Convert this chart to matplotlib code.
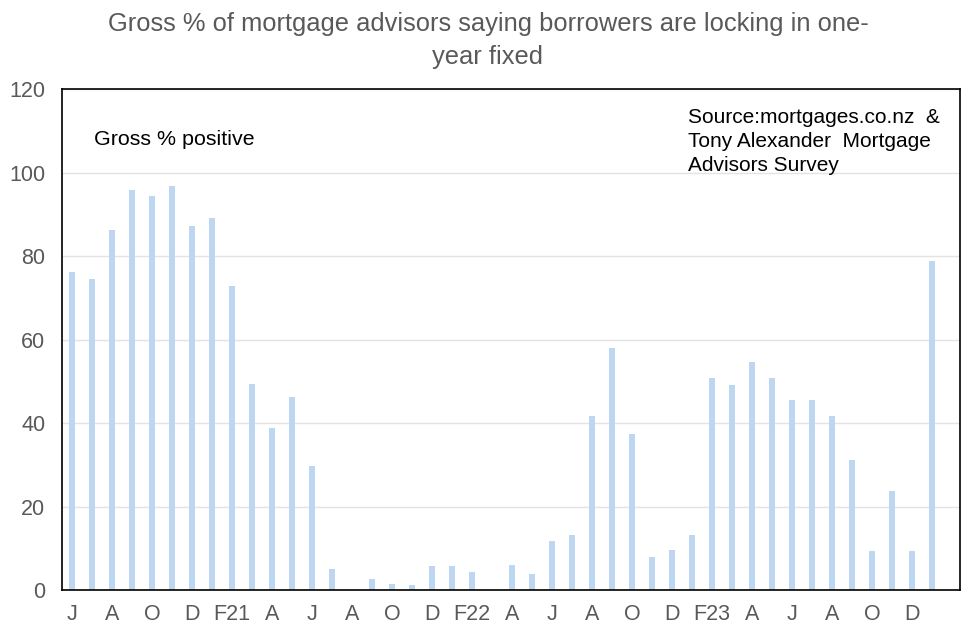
import matplotlib
matplotlib.use("Agg")
import matplotlib.pyplot as plt

plt.rcParams['font.family'] = ['Liberation Sans', 'DejaVu Sans']

months = ["Jun20", "Jul20", "Aug20", "Sep20", "Oct20", "Nov20", "Dec20", "Jan21",
          "Feb21", "Mar21", "Apr21", "May21", "Jun21", "Jul21", "Aug21", "Sep21",
          "Oct21", "Nov21", "Dec21", "Jan22", "Feb22", "Mar22", "Apr22", "May22",
          "Jun22", "Jul22", "Aug22", "Sep22", "Oct22", "Nov22", "Dec22", "Jan23",
          "Feb23", "Mar23", "Apr23", "May23", "Jun23", "Jul23", "Aug23", "Sep23",
          "Oct23", "Nov23", "Dec23", "Jan24"]
values = [76.2, 74.6, 86.2, 95.8, 94.4, 96.8, 87.1, 89.0,
          72.9, 49.4, 38.9, 46.2, 29.8, 5.0, None, 2.6,
          1.4, 1.2, 5.8, 5.8, 4.3, None, 6.0, 3.8,
          11.8, 13.2, 41.8, 58.0, 37.4, 7.9, 9.6, 13.2,
          50.8, 49.2, 54.7, 50.8, 45.4, 45.6, 41.8, 31.2,
          9.4, 23.8, 9.4, 78.7]
tick_labels = ["J", "A", "O", "D", "F21", "A", "J", "A", "O", "D", "F22",
               "A", "J", "A", "O", "D", "F23", "A", "J", "A", "O", "D"]

fig = plt.figure(figsize=(9.76, 6.36), dpi=100)
ax = fig.add_axes([0.0635, 0.0723, 0.92, 0.7877])

xs = [i for i, v in enumerate(values) if v is not None]
hs = [v for v in values if v is not None]
ax.bar(xs, hs, width=0.33, color='#BDD7F2', zorder=2)

ax.set_xlim(-0.5, 44.4)
ax.set_ylim(0, 120)
ax.set_yticks(range(0, 121, 20))
ax.set_xticks(list(range(0, len(months), 2)))
ax.set_xticklabels(tick_labels)
ax.tick_params(axis='both', length=0, labelsize=15.5, colors='#595959')
ax.tick_params(axis='x', pad=10)
ax.tick_params(axis='y', pad=12)
ax.yaxis.grid(True, color='#E3E3E3', linewidth=1, zorder=0)
for s in ax.spines.values():
    s.set_color('black')
    s.set_linewidth(1.2)

ax.text(0.0356, 0.90, "Gross % positive", transform=ax.transAxes,
        fontsize=15.4, color='black', va='center', ha='left')
ax.text(0.697, 0.962, "Source:mortgages.co.nz  &\nTony Alexander  Mortgage\nAdvisors Survey",
        transform=ax.transAxes, fontsize=15, color='black', va='top', ha='left',
        linespacing=1.33)

fig.text(0.5, 0.981, "Gross % of mortgage advisors saying borrowers are locking in one-\nyear fixed",
         ha='center', va='top', fontsize=18.4, color='#595959', linespacing=1.45)

fig.savefig("out.png", dpi=100)
